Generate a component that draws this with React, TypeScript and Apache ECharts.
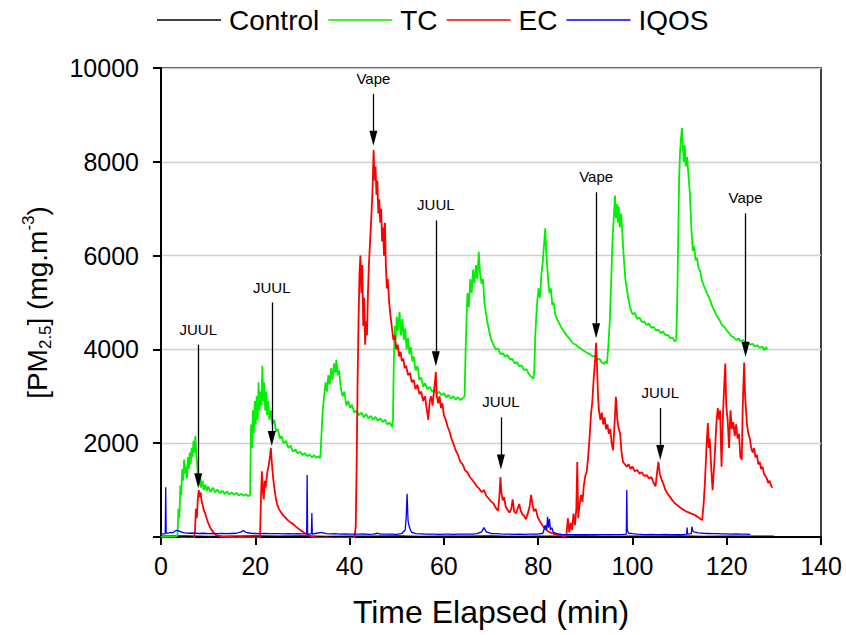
import React, { useEffect, useRef } from "react";
import * as echarts from "echarts";

const FONT = "'Liberation Sans', Arial, Helvetica, sans-serif";

const seriesNames = ["Control", "TC", "EC", "IQOS"];
const seriesColors = ["#000000", "#00f000", "#ff0000", "#0000ff"];

const xTicks = { min: 0, max: 140, step: 20 };
const yTicks = { min: 0, max: 10000, step: 2000 };

const controlData: number[][] = [
  [0, 20], [5, 25], [10, 15], [15, 20], [20, 25], [25, 18], [30, 22], [35, 15], [40, 20],
  [45, 18], [50, 22], [55, 15], [60, 20], [65, 18], [70, 22], [75, 15], [80, 20], [85, 18],
  [90, 22], [95, 15], [100, 20], [105, 18], [110, 22], [115, 15], [120, 20], [125, 18], [130, 20],
];

const tcData: number[][] = [
  [0, 10], [1, 5], [2, 8], [3, 10], [3.5, 30], [3.7, 600], [3.9, 400], [4.1, 1100], [4.3, 900],
  [4.5, 1450], [4.7, 1200], [4.9, 1650], [5.1, 1350], [5.3, 1500], [5.5, 1250], [5.7, 1700],
  [5.9, 1450], [6.1, 1800], [6.3, 1550], [6.5, 1900], [6.7, 1700], [6.9, 2050], [7.1, 1800],
  [7.3, 2150], [7.5, 1750], [7.7, 1500], [7.9, 1250], [8.1, 1100], [8.3, 1300], [8.5, 1050],
  [8.8, 1200], [9.1, 1000], [9.4, 1120], [9.7, 980], [10, 1080], [10.5, 960], [11, 1050],
  [11.5, 950], [12, 1010], [12.5, 930], [13, 990], [13.5, 920], [14, 970], [14.5, 910],
  [15, 950], [15.5, 900], [16, 940], [16.5, 890], [17, 920], [17.5, 880], [18, 910], [18.5, 870],
  [18.9, 900], [19.1, 2400], [19.3, 1900], [19.5, 2700], [19.7, 2200], [19.9, 2900], [20.1, 2400],
  [20.3, 3000], [20.5, 2500], [20.7, 3300], [20.9, 2700], [21.1, 3100], [21.3, 2800], [21.5, 3650],
  [21.7, 2900], [21.9, 3300], [22.1, 2700], [22.3, 3100], [22.5, 2600], [22.7, 2900], [23, 2500],
  [23.3, 2700], [23.6, 2400], [24, 2500], [24.4, 2250], [24.8, 2300], [25.2, 2100], [25.6, 2150],
  [26, 2000], [26.5, 2050], [27, 1900], [27.5, 1950], [28, 1820], [28.5, 1870], [29, 1780],
  [29.5, 1820], [30, 1750], [30.5, 1790], [31, 1720], [31.5, 1760], [32, 1700], [32.5, 1740],
  [33, 1690], [33.5, 1720], [33.8, 1680], [34, 2100], [34.3, 2700], [34.6, 3000], [34.9, 3300],
  [35.2, 3100], [35.5, 3450], [35.8, 3250], [36.1, 3600], [36.4, 3350], [36.7, 3700], [37, 3500],
  [37.2, 3780], [37.5, 3450], [37.8, 3550], [38.1, 3200], [38.5, 3000], [38.9, 3100], [39.3, 2800],
  [39.7, 2900], [40.1, 2750], [40.5, 2820], [41, 2650], [41.5, 2700], [42, 2600], [42.5, 2650],
  [43, 2550], [43.5, 2620], [44, 2530], [44.5, 2580], [45, 2500], [45.5, 2560], [46, 2480],
  [46.5, 2530], [47, 2450], [47.5, 2500], [48, 2400], [48.5, 2440], [49, 2350], [49.2, 2500],
  [49.4, 3800], [49.6, 4500], [49.8, 4200], [50, 4700], [50.3, 4400], [50.6, 4800], [50.9, 4300],
  [51.2, 4650], [51.5, 4200], [51.8, 4450], [52.1, 4000], [52.4, 4250], [52.7, 3900], [53, 4050],
  [53.3, 3750], [53.6, 3850], [54, 3550], [54.4, 3650], [54.8, 3350], [55.2, 3400], [55.6, 3200],
  [56, 3280], [56.5, 3150], [57, 3200], [57.5, 3100], [58, 3150], [58.5, 3050], [59, 3100],
  [59.5, 3020], [60, 3070], [60.5, 2980], [61, 3030], [61.5, 2950], [62, 3000], [62.5, 2930],
  [63, 2980], [63.5, 2920], [64, 2960], [64.4, 3000], [64.6, 3900], [64.8, 4600], [65, 5200],
  [65.3, 4900], [65.6, 5500], [65.9, 5200], [66.2, 5700], [66.5, 5400], [66.8, 5800], [67.1, 5500],
  [67.4, 6080], [67.7, 5600], [68, 5400], [68.3, 5500], [68.6, 5000], [68.9, 4800], [69.2, 4600],
  [69.5, 4450], [69.8, 4300], [70.1, 4200], [70.5, 4100], [71, 4000], [71.5, 4020], [72, 3900],
  [72.5, 3920], [73, 3850], [73.5, 3880], [74, 3790], [74.5, 3800], [75, 3700], [75.5, 3730],
  [76, 3640], [76.5, 3660], [77, 3560], [77.5, 3580], [78, 3480], [78.5, 3420], [79, 3380],
  [79.2, 3600], [79.4, 4300], [79.6, 4700], [79.8, 5000], [80.1, 5300], [80.4, 5100], [80.7, 5600],
  [81, 5900], [81.3, 6300], [81.5, 6580], [81.7, 6100], [81.9, 5800], [82.1, 5500], [82.4, 5200],
  [82.7, 5300], [83, 4950], [83.3, 5000], [83.6, 4750], [84, 4650], [84.5, 4550], [85, 4450],
  [85.5, 4380], [86, 4300], [86.5, 4250], [87, 4180], [87.5, 4120], [88, 4100], [88.5, 4050],
  [89, 4020], [89.5, 3980], [90, 3950], [90.5, 3920], [91, 3900], [91.5, 3850], [92, 3860],
  [92.5, 3790], [93, 3800], [93.5, 3720], [94, 3690], [94.3, 3750], [94.6, 3700], [94.9, 4100],
  [95.2, 4600], [95.5, 5500], [95.8, 6400], [96.1, 6900], [96.3, 7280], [96.5, 6800], [96.7, 7100],
  [96.9, 6700], [97.1, 7050], [97.3, 6600], [97.6, 6900], [97.9, 6400], [98.2, 5900], [98.5, 5500],
  [98.8, 5300], [99.1, 5100], [99.5, 4900], [100, 4750], [100.5, 4780], [101, 4650], [101.5, 4680],
  [102, 4580], [102.5, 4600], [103, 4520], [103.5, 4550], [104, 4460], [104.5, 4480], [105, 4400],
  [105.5, 4420], [106, 4350], [106.5, 4380], [107, 4300], [107.5, 4310], [108, 4240], [108.5, 4250],
  [109, 4170], [109.3, 4200], [109.5, 5000], [109.7, 6300], [109.9, 7600], [110.1, 8200],
  [110.3, 8500], [110.5, 8720], [110.7, 8300], [110.9, 8000], [111.1, 8350], [111.3, 7900],
  [111.6, 8100], [111.9, 7700], [112.2, 7300], [112.5, 6600], [112.8, 6100], [113.1, 6200],
  [113.4, 5900], [113.7, 5950], [114, 5750], [114.4, 5650], [114.8, 5450], [115.2, 5350],
  [115.6, 5250], [116, 5150], [116.5, 5050], [117, 4900], [117.5, 4800], [118, 4700], [118.5, 4620],
  [119, 4520], [119.5, 4480], [120, 4400], [120.5, 4350], [121, 4280], [121.5, 4260], [122, 4200],
  [122.5, 4230], [123, 4170], [123.5, 4200], [124, 4130], [124.5, 4160], [125, 4100], [125.5, 4120],
  [126, 4060], [126.5, 4090], [127, 4030], [127.5, 4060], [128, 3980], [128.3, 4050], [128.6, 4000],
];

const ecData: number[][] = [
  [0, -20], [1, -30], [2, -20], [3, -40], [4, -30], [5, -20], [6, -30], [7, -20], [7.2, 100],
  [7.4, 600], [7.6, 400], [7.8, 800], [8, 1000], [8.2, 850], [8.4, 950], [8.6, 780], [8.8, 700],
  [9, 600], [9.3, 520], [9.6, 420], [9.9, 330], [10.2, 260], [10.5, 190], [10.8, 140], [11.2, 90],
  [11.6, 50], [12, 30], [13, 10], [14, 0], [15, 5], [16, -10], [17, 0], [18, -10], [19, -5],
  [20, -10], [21, -5], [21.2, 800], [21.4, 1400], [21.6, 1000], [21.8, 800], [22, 1200],
  [22.2, 1050], [22.5, 1350], [22.8, 1500], [23.1, 1700], [23.3, 1900], [23.5, 1600], [23.8, 1250],
  [24.1, 1000], [24.4, 800], [24.7, 680], [25, 600], [25.5, 520], [26, 450], [26.5, 400], [27, 350],
  [27.5, 310], [28, 280], [28.5, 230], [29, 190], [29.5, 150], [30, 120], [30.5, 80], [31, 50],
  [31.5, 30], [32, 10], [33, -10], [34, -20], [35, -10], [36, -20], [37, -30], [38, -20], [39, -30],
  [40, -20], [41, -25], [41.3, 200], [41.5, 1500], [41.7, 3300], [41.9, 4600], [42.1, 5600],
  [42.3, 6000], [42.5, 5200], [42.7, 5800], [42.9, 4500], [43.1, 5100], [43.3, 4100], [43.5, 4600],
  [43.7, 4300], [43.9, 5200], [44.1, 5800], [44.4, 6400], [44.7, 7000], [44.9, 7500], [45.1, 8250],
  [45.3, 7600], [45.5, 7900], [45.7, 7300], [45.9, 7600], [46.1, 6900], [46.3, 7200], [46.5, 6700],
  [46.7, 7000], [46.9, 6300], [47.1, 6600], [47.3, 6000], [47.5, 6700], [47.7, 5800], [47.9, 5300],
  [48.1, 5500], [48.4, 5000], [48.7, 4700], [49, 4450], [49.3, 4200], [49.6, 4300], [49.9, 4000],
  [50.2, 4100], [50.5, 3850], [50.8, 3950], [51.1, 3750], [51.4, 3800], [51.7, 3600], [52, 3650],
  [52.4, 3450], [52.8, 3500], [53.2, 3300], [53.6, 3350], [54, 3150], [54.4, 3250], [54.8, 3050],
  [55.2, 3100], [55.6, 2900], [56, 3000], [56.4, 2700], [56.7, 2500], [57, 2900], [57.3, 3000],
  [57.6, 2800], [57.9, 3100], [58.1, 3300], [58.3, 3520], [58.5, 3000], [58.8, 2850], [59.1, 3000],
  [59.4, 2750], [59.7, 2850], [60, 2600], [60.4, 2500], [60.8, 2350], [61.2, 2250], [61.6, 2100],
  [62, 2000], [62.5, 1850], [63, 1750], [63.5, 1600], [64, 1550], [64.5, 1420], [65, 1380],
  [65.5, 1280], [66, 1220], [66.5, 1150], [67, 1080], [67.5, 1030], [68, 960], [68.5, 1000],
  [69, 880], [69.5, 820], [70, 760], [70.5, 720], [71, 620], [71.5, 560], [71.8, 900], [72, 1280],
  [72.2, 950], [72.5, 780], [72.8, 850], [73.1, 650], [73.5, 580], [73.9, 520], [74.3, 600],
  [74.6, 800], [74.9, 550], [75.3, 500], [75.7, 620], [76, 700], [76.3, 560], [76.7, 480], [77, 450],
  [77.4, 380], [77.8, 500], [78.2, 650], [78.5, 900], [78.8, 700], [79.1, 550], [79.5, 600],
  [79.9, 420], [80.3, 350], [80.7, 280], [81.1, 220], [81.5, 170], [82, 130], [82.5, 100], [83, 80],
  [83.5, 60], [84, 50], [84.5, 40], [85, 30], [85.5, 20], [86, 30], [86.3, 400], [86.6, 100],
  [86.9, 300], [87.2, 150], [87.5, 500], [87.8, 250], [88.1, 600], [88.3, 1600], [88.5, 400],
  [88.8, 700], [89.1, 900], [89.4, 750], [89.7, 1100], [90, 1300], [90.3, 1400], [90.6, 1700],
  [90.9, 2100], [91.2, 2600], [91.5, 2900], [91.8, 3400], [92.1, 3800], [92.3, 4140], [92.5, 3600],
  [92.7, 3000], [92.9, 2700], [93.2, 2500], [93.5, 2650], [93.8, 2400], [94.1, 2550], [94.4, 2300],
  [94.7, 2400], [95, 2200], [95.3, 2300], [95.6, 2000], [95.9, 1850], [96.2, 2400], [96.5, 2990],
  [96.8, 2500], [97.1, 2300], [97.4, 2200], [97.7, 1800], [98, 1600], [98.4, 1550], [98.8, 1500],
  [99.2, 1550], [99.6, 1450], [100, 1500], [100.5, 1400], [101, 1430], [101.5, 1350], [102, 1380],
  [102.5, 1300], [103, 1320], [103.5, 1250], [104, 1280], [104.5, 1150], [104.9, 1080],
  [105.2, 1350], [105.5, 1600], [105.8, 1350], [106.1, 1250], [106.5, 1150], [107, 1000],
  [107.5, 920], [108, 850], [108.5, 780], [109, 720], [109.5, 680], [110, 640], [110.5, 600],
  [111, 570], [111.5, 540], [112, 520], [112.5, 500], [113, 480], [113.5, 450], [114, 420],
  [114.5, 380], [114.8, 360], [115.1, 700], [115.4, 1200], [115.7, 1900], [116, 2430], [116.2, 1900],
  [116.4, 2100], [116.7, 1500], [117, 1000], [117.2, 1300], [117.5, 1800], [117.8, 2400],
  [118.1, 2750], [118.4, 2500], [118.6, 2700], [118.9, 1500], [119.2, 2600], [119.5, 3300],
  [119.7, 3700], [119.9, 2800], [120.2, 2500], [120.5, 1900], [120.8, 2700], [121.1, 2300],
  [121.4, 2450], [121.7, 2150], [122, 2400], [122.3, 2100], [122.6, 2200], [122.9, 1700],
  [123.2, 1650], [123.4, 2800], [123.7, 3720], [123.9, 3000], [124.1, 2700], [124.3, 2400],
  [124.6, 2200], [124.9, 2100], [125.2, 1900], [125.5, 1800], [125.8, 1900], [126.1, 1700],
  [126.4, 1750], [126.7, 1550], [127, 1600], [127.3, 1450], [127.6, 1500], [127.9, 1350],
  [128.2, 1300], [128.5, 1250], [128.8, 1150], [129.1, 1200], [129.4, 1100], [129.7, 1050],
];

const iqosData: number[][] = [
  [0, 60], [0.9, 70], [1, 1060], [1.1, 90], [1.5, 80], [2, 100], [2.5, 90], [3, 130], [3.5, 140],
  [4, 120], [4.5, 100], [5, 90], [6, 80], [7, 85], [8, 75], [9, 80], [10, 70], [11, 75], [12, 70],
  [13, 75], [14, 70], [15, 75], [16, 80], [17, 110], [17.5, 140], [18, 100], [19, 80], [20, 75],
  [21, 70], [22, 75], [23, 70], [24, 72], [25, 70], [26, 68], [27, 72], [28, 66], [29, 70], [30, 65],
  [30.9, 70], [31, 1320], [31.1, 60], [31.5, 60], [31.9, 70], [32, 510], [32.1, 60], [33, 80],
  [34, 100], [35, 70], [36, 65], [37, 70], [38, 60], [39, 65], [40, 60], [41, 62], [42, 60], [43, 65],
  [44, 58], [45, 62], [46, 80], [46.5, 60], [47, 62], [48, 60], [49, 62], [50, 58], [51, 70],
  [51.8, 150], [52, 400], [52.2, 920], [52.4, 350], [52.6, 250], [52.9, 150], [53.2, 100], [54, 70],
  [55, 65], [56, 60], [57, 62], [58, 60], [59, 58], [60, 60], [61, 62], [62, 58], [63, 60], [64, 62],
  [65, 60], [66, 62], [67, 70], [68, 110], [68.5, 200], [69, 110], [70, 75], [71, 70], [72, 65],
  [73, 62], [74, 60], [75, 58], [76, 62], [77, 58], [78, 60], [79, 62], [80, 60], [81, 80],
  [81.5, 250], [81.8, 150], [82, 430], [82.2, 200], [82.4, 380], [82.6, 150], [82.9, 200],
  [83.2, 100], [84, 70], [85, 55], [86, 50], [87, 50], [88, 48], [89, 50], [90, 52], [91, 50],
  [92, 48], [93, 50], [94, 52], [95, 48], [96, 50], [97, 52], [98, 55], [98.7, 60], [98.8, 1000],
  [98.9, 150], [99.2, 80], [100, 70], [101, 60], [102, 55], [103, 52], [104, 55], [105, 52],
  [106, 50], [107, 55], [108, 52], [109, 50], [110, 52], [111, 55], [111.5, 60], [111.6, 200],
  [111.7, 60], [112.5, 70], [112.6, 220], [112.8, 130], [113, 110], [114, 90], [115, 80], [116, 75],
  [117, 70], [118, 72], [119, 65], [120, 68], [121, 62], [122, 65], [123, 60], [124, 62], [125, 55],
];

// annotation arrows: label, time, value at top of the line, value at arrow-head centre
const annotLabels = ["JUUL", "JUUL", "Vape", "JUUL", "JUUL", "Vape", "JUUL", "Vape"];
const annotTimes = [7.9, 23.5, 45.05, 58.3, 72.1, 92.3, 105.9, 124.0];
const annotTops = [4100, 5000, 9450, 6750, 2550, 7350, 2750, 6900];
const annotHeads = [1200, 2100, 8500, 3800, 1600, 4400, 1800, 4000];

export default function App() {
  const ref = useRef<HTMLDivElement>(null);

  useEffect(() => {
    if (!ref.current) return;
    const chart = echarts.init(ref.current, null, { renderer: "svg" });

    const markData = annotLabels.map((lab, i) => [
      {
        coord: [annotTimes[i], annotTops[i]],
        label: { formatter: lab },
      },
      {
        coord: [annotTimes[i], annotHeads[i]],
        symbol: "triangle",
        symbolSize: [8, 15],
      },
    ]);

    const datasets = [controlData, tcData, ecData, iqosData];

    const series: any[] = seriesNames.map((name, i) => ({
      name,
      type: "line",
      data: datasets[i],
      showSymbol: false,
      symbol: "none",
      lineStyle: { color: seriesColors[i], width: i === 3 ? 1.3 : i === 0 ? 1.2 : 1.8 },
      itemStyle: { color: seriesColors[i] },
      silent: true,
      z: 2 + i,
    }));

    series.push({
      name: "annotations",
      type: "line",
      data: [],
      silent: true,
      z: 10,
      markLine: {
        silent: true,
        animation: false,
        symbol: ["none", "triangle"],
        symbolSize: [0, 12],
        lineStyle: { color: "#000", width: 1.3, type: "solid" },
        itemStyle: { color: "#000" },
        label: {
          show: true,
          position: "start",
          distance: 8,
          color: "#000",
          fontSize: 15,
          fontFamily: FONT,
        },
        emphasis: { disabled: true },
        data: markData,
      },
    });

    chart.setOption({
      animation: false,
      backgroundColor: "#fff",
      legend: {
        data: seriesNames,
        left: 157,
        top: 6,
        padding: 0,
        icon: "rect",
        itemWidth: 64,
        itemHeight: 1.5,
        itemGap: 9,
        textStyle: {
          fontFamily: FONT,
          fontSize: 28,
          color: "#000",
          padding: [0, 0, 0, 3],
        },
      },
      grid: {
        left: 161,
        right: 25,
        top: 68,
        bottom: 98,
        show: true,
        borderColor: "#000",
        borderWidth: 1.5,
        backgroundColor: "transparent",
      },
      xAxis: {
        type: "value",
        min: xTicks.min,
        max: xTicks.max,
        interval: xTicks.step,
        name: "Time Elapsed (min)",
        nameLocation: "middle",
        nameGap: 59,
        nameTextStyle: { fontFamily: FONT, fontSize: 32, color: "#000" },
        axisLine: { show: true, lineStyle: { color: "#000", width: 2 } },
        axisTick: { show: true, inside: false, length: 8, lineStyle: { color: "#000", width: 2 } },
        axisLabel: { fontFamily: FONT, fontSize: 25, color: "#000", margin: 16 },
        splitLine: { show: false },
      },
      yAxis: {
        type: "value",
        min: yTicks.min,
        max: yTicks.max,
        interval: yTicks.step,
        name: "{a|[PM}{s|2.5}{a|] (mg.m}{p|-3}{a|)}",
        nameLocation: "middle",
        nameRotate: 90,
        nameGap: 107,
        nameTextStyle: {
          fontFamily: FONT,
          fontSize: 28,
          color: "#000",
          rich: {
            a: { fontFamily: FONT, fontSize: 28, color: "#000", lineHeight: 34 },
            s: { fontFamily: FONT, fontSize: 17, color: "#000", lineHeight: 17, verticalAlign: "bottom" },
            p: { fontFamily: FONT, fontSize: 17, color: "#000", lineHeight: 17, verticalAlign: "top" },
          },
        },
        axisLine: { show: true, lineStyle: { color: "#000", width: 2 } },
        axisTick: { show: true, inside: false, length: 8, lineStyle: { color: "#000", width: 2 } },
        axisLabel: {
          fontFamily: FONT,
          fontSize: 25,
          color: "#000",
          margin: 22,
          formatter: (v: number) => (v === 0 ? "" : String(v)),
        },
        splitLine: { show: true, lineStyle: { color: "#cfcfcf", width: 1.3 } },
      },
      series,
    });

    return () => {
      chart.dispose();
    };
  }, []);

  return (
    <div
      ref={ref}
      style={{ position: "absolute", left: 0, top: 0, width: 846, height: 635 }}
    />
  );
}
